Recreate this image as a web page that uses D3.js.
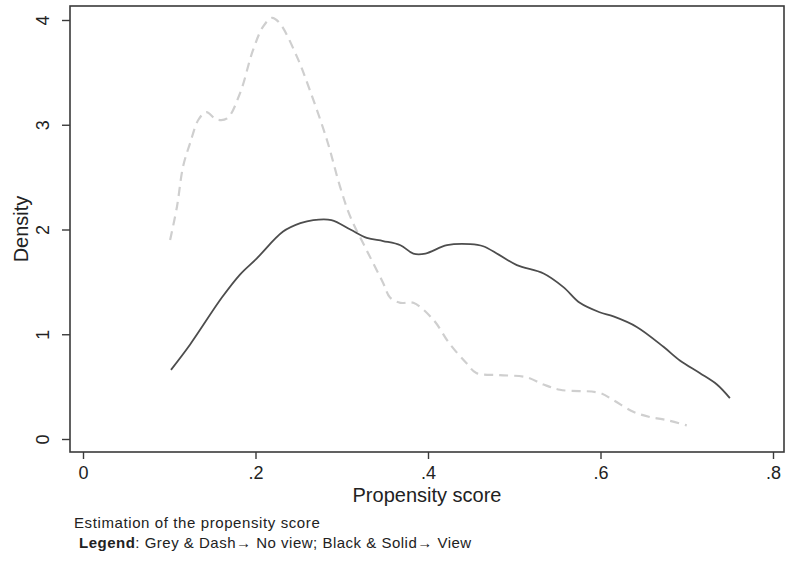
<!DOCTYPE html>
<html lang="en">
<head>
<meta charset="UTF-8">
<title>Propensity score density</title>
<script src="https://d3js.org/d3.v7.min.js"></script>
<style>
  body { margin: 0; background: #fff; font-family: "Liberation Sans", Arial, sans-serif; }
  svg text { fill: #222; }
</style>
</head>
<body>
<svg id="chart" width="786" height="561"></svg>
<script>
// propensity score grid and density readings
const viewScore = [0.102, 0.124, 0.161, 0.182, 0.201, 0.232, 0.252, 0.267, 0.288, 0.310, 0.329, 0.348, 0.368, 0.383, 0.397,
                   0.422, 0.449, 0.464, 0.482, 0.503, 0.534, 0.557, 0.576, 0.599, 0.615, 0.642, 0.673, 0.692, 0.715, 0.735, 0.750];
const viewDensity = [0.66, 0.90, 1.35, 1.57, 1.72, 1.98, 2.06, 2.09, 2.09, 2.00, 1.92, 1.89, 1.85, 1.77, 1.77,
                     1.85, 1.86, 1.84, 1.76, 1.66, 1.58, 1.45, 1.30, 1.21, 1.17, 1.07, 0.88, 0.75, 0.63, 0.52, 0.39];

const noViewScore = [0.101, 0.109, 0.116, 0.124, 0.134, 0.143, 0.155, 0.167, 0.182, 0.197, 0.209, 0.219, 0.228, 0.248, 0.263,
                     0.283, 0.298, 0.310, 0.329, 0.348, 0.356, 0.368, 0.383, 0.406, 0.425, 0.445, 0.456, 0.483, 0.514,
                     0.534, 0.553, 0.599, 0.615, 0.638, 0.657, 0.677, 0.700];
const noViewDensity = [1.90, 2.22, 2.60, 2.82, 3.05, 3.12, 3.05, 3.06, 3.30, 3.71, 3.94, 4.02, 3.97, 3.65, 3.33,
                       2.85, 2.41, 2.12, 1.80, 1.49, 1.35, 1.30, 1.30, 1.14, 0.91, 0.72, 0.63, 0.61, 0.59,
                       0.52, 0.47, 0.44, 0.37, 0.26, 0.21, 0.18, 0.13];

const xTicks = [0, 0.2, 0.4, 0.6, 0.8];
const yTicks = [0, 1, 2, 3, 4];

const svg = d3.select("#chart");

const box = { left: 70, right: 784, top: 6, bottom: 452 };

const x = d3.scaleLinear().domain([0, 0.8]).range([83, 773]);
const y = d3.scaleLinear().domain([0, 4]).range([439, 20]);

// plot region frame
svg.append("rect")
   .attr("x", box.left)
   .attr("y", box.top)
   .attr("width", box.right - box.left)
   .attr("height", box.bottom - box.top)
   .attr("fill", "none")
   .attr("stroke", "#3a3a3a")
   .attr("stroke-width", 1.6);

const fmt = d => d === 0 ? "0" : d3.format(".1f")(d).replace(/^0/, "");

// x axis
const xAxis = svg.append("g")
   .attr("transform", `translate(0,${box.bottom})`)
   .call(d3.axisBottom(x).tickValues(xTicks).tickSize(7).tickPadding(7).tickFormat(fmt));
xAxis.select(".domain").remove();
xAxis.selectAll("line").attr("stroke", "#3a3a3a").attr("stroke-width", 1.4);
xAxis.selectAll("text").attr("font-size", 18).attr("font-family", "Liberation Sans, Arial, sans-serif").attr("fill", "#222");

// y axis, labels turned like the original
const yAxis = svg.append("g")
   .attr("transform", `translate(${box.left},0)`)
   .call(d3.axisLeft(y).tickValues(yTicks).tickSize(8).tickPadding(0).tickFormat(d3.format("d")));
yAxis.select(".domain").remove();
yAxis.selectAll("line").attr("stroke", "#3a3a3a").attr("stroke-width", 1.4);
yAxis.selectAll("text")
   .attr("font-size", 18)
   .attr("font-family", "Liberation Sans, Arial, sans-serif")
   .attr("fill", "#222")
   .attr("x", null)
   .attr("text-anchor", "middle")
   .attr("transform", "translate(-27,0) rotate(-90)")
   .attr("dy", "0.35em");

// axis titles
svg.append("text")
   .attr("x", 427).attr("y", 502)
   .attr("text-anchor", "middle")
   .attr("font-size", 20)
   .text("Propensity score");

svg.append("text")
   .attr("transform", "translate(28,229) rotate(-90)")
   .attr("text-anchor", "middle")
   .attr("font-size", 20)
   .text("Density");

// density curves
const line = d3.line()
   .x(d => x(d[0]))
   .y(d => y(d[1]))
   .curve(d3.curveCatmullRom.alpha(0.5));

svg.append("path")
   .datum(d3.zip(noViewScore, noViewDensity))
   .attr("d", line)
   .attr("fill", "none")
   .attr("stroke", "#cfcfcf")
   .attr("stroke-width", 2.2)
   .attr("stroke-dasharray", "9,6");

svg.append("path")
   .datum(d3.zip(viewScore, viewDensity))
   .attr("d", line)
   .attr("fill", "none")
   .attr("stroke", "#4d4d4d")
   .attr("stroke-width", 1.8);

// note below the chart
svg.append("text")
   .attr("x", 74).attr("y", 528)
   .attr("font-size", 15)
   .attr("letter-spacing", 0.6)
   .text("Estimation of the propensity score");

const legend = svg.append("text")
   .attr("x", 79).attr("y", 548)
   .attr("font-size", 15)
   .attr("letter-spacing", 0.5);
legend.append("tspan").attr("font-weight", "bold").text("Legend");
legend.append("tspan").text(": Grey & Dash\u2192 No view; Black & Solid\u2192 View");
</script>
</body>
</html>
